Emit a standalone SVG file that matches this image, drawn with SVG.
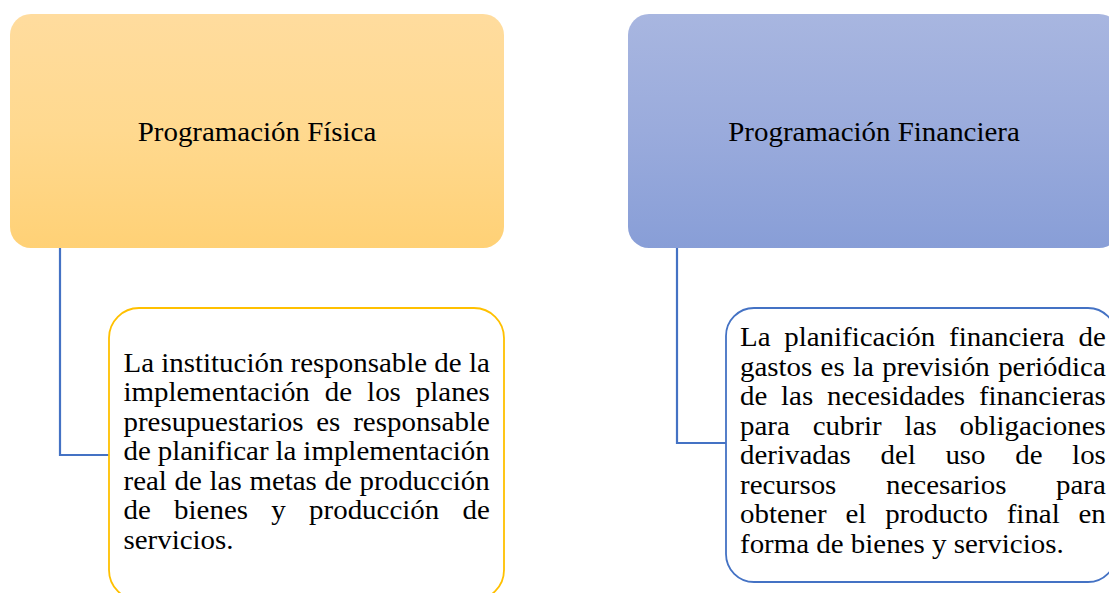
<svg xmlns="http://www.w3.org/2000/svg" width="1109" height="593" viewBox="0 0 1109 593">
<style>
text{font-family:"Liberation Serif","Times New Roman",serif;font-size:27px;fill:#000;font-kerning:none;font-variant-ligatures:none}
.conn{fill:none;stroke:#4472C4;stroke-width:2.2}
.gold{fill:#fff;stroke:#FFC000;stroke-width:1.8}
.blue{fill:#fff;stroke:#4472C4;stroke-width:1.8}
</style>
<defs>
<linearGradient id="gGold" x1="0" y1="0" x2="0" y2="1">
<stop offset="0" stop-color="#FFDC9E"/>
<stop offset="0.5" stop-color="#FFD98F"/>
<stop offset="1" stop-color="#FFD176"/>
</linearGradient>
<linearGradient id="gBlue" x1="0" y1="0" x2="0" y2="1">
<stop offset="0" stop-color="#A8B6E0"/>
<stop offset="0.5" stop-color="#9AABDC"/>
<stop offset="1" stop-color="#889ED7"/>
</linearGradient>
</defs>
<rect width="1109" height="593" fill="#fff"/>
<g id="connectors">
<path class="conn" d="M60,248 V455 H109"/>
<path class="conn" d="M677,248 V443 H726"/>
</g>
<g id="node-fisica">
<rect x="10" y="14" width="494" height="234" rx="21" fill="url(#gGold)"/>
<g transform="translate(257,0) scale(1.072,1)"><text x="0" y="140.7" text-anchor="middle">Programación Física</text></g>
</g>
<g id="node-financiera">
<rect x="628" y="14" width="492" height="234" rx="21" fill="url(#gBlue)"/>
<g transform="translate(874,0) scale(1.072,1)"><text x="0" y="140.7" text-anchor="middle">Programación Financiera</text></g>
</g>
<g id="node-fisica-desc">
<rect class="gold" x="109" y="308" width="395" height="292" rx="30"/>
<g transform="translate(123.5,0) scale(1.072,1)">
<text x="0" y="372">La institución responsable de la</text>
<text x="0" y="401.5" word-spacing="7.24">implementación de los planes</text>
<text x="0" y="431" word-spacing="5.25">presupuestarios es responsable</text>
<text x="0" y="460.5" word-spacing="-0.25">de planificar la implementación</text>
<text x="0" y="490" word-spacing="0.45">real de las metas de producción</text>
<text x="0" y="519.5" word-spacing="15">de bienes y producción de</text>
<text x="0" y="549">servicios.</text>
</g>
</g>
<g id="node-financiera-desc">
<rect class="blue" x="726" y="308" width="390" height="274" rx="28"/>
<g transform="translate(740,0) scale(1.072,1)">
<text x="0" y="346.5" word-spacing="6.11">La planificación financiera de</text>
<text x="0" y="376" word-spacing="1.0">gastos es la previsión periódica</text>
<text x="0" y="405.5" word-spacing="6.11">de las necesidades financieras</text>
<text x="0" y="435" word-spacing="14.6">para cubrir las obligaciones</text>
<text x="0" y="464.5" word-spacing="20.88">derivadas del uso de los</text>
<text x="0" y="494" word-spacing="39.54">recursos necesarios para</text>
<text x="0" y="523.5" word-spacing="10.76">obtener el producto final en</text>
<text x="0" y="553">forma de bienes y servicios.</text>
</g>
</g>
</svg>
